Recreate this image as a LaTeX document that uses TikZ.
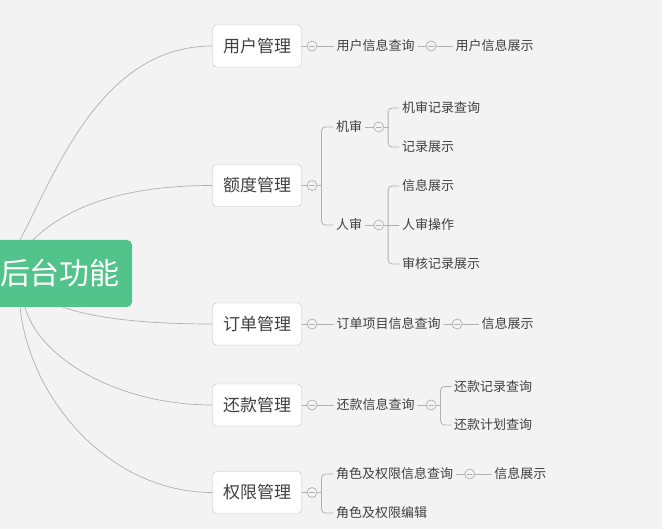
\documentclass[tikz,border=0pt]{standalone}
\usepackage{fontspec}
\newfontfamily\cjk{Noto Sans CJK SC}
\usetikzlibrary{positioning}
\definecolor{bgcol}{HTML}{F3F3F3}
\definecolor{rootcol}{HTML}{52C48B}
\definecolor{lncol}{HTML}{B0B0B0}
\definecolor{boxcol}{HTML}{C2C2C2}
\definecolor{txtcol}{HTML}{404040}
\tikzset{
	ln/.style={draw=lncol, line width=0.8pt},
	curve/.style={draw=lncol, line width=0.7pt},
	topic/.style={draw=boxcol, fill=white, rounded corners=4pt, minimum width=89pt, minimum height=42pt, inner sep=0pt, text=txtcol, font=\cjk\fontsize{17}{17}\selectfont},
	leaf/.style={anchor=west, inner xsep=3pt, inner ysep=2pt, text=txtcol, font=\cjk\fontsize{13}{13}\selectfont},
	fold/.style={circle, draw=lncol, fill=bgcol, minimum size=10pt, inner sep=0pt, line width=0.7pt,
		path picture={\draw[lncol, line width=0.7pt] ([xshift=-2.5pt]path picture bounding box.center) -- ([xshift=2.5pt]path picture bounding box.center);}},
}
\begin{document}
\begin{tikzpicture}[x=1pt, y=-1pt, line join=round, line cap=round]
	\def\W{662} \def\H{529}
	\useasboundingbox (0,0) rectangle (\W,\H);
	\clip (0,0) rectangle (\W,\H);
	\fill[bgcol] (0,0) rectangle (\W,\H);
	% centre
	\node[fill=rootcol, rounded corners=5pt, minimum width=144pt, minimum height=67pt, inner sep=0pt, text=white, font=\cjk\fontsize{30}{30}\selectfont] (root) at (60,273.5) {后台功能};
	% main topics
	\node[topic] (yh) at (257,46) {用户管理};
	\node[topic] (ed) at (257,185.5) {额度管理};
	\node[topic] (dd) at (257,324) {订单管理};
	\node[topic] (hk) at (257,405) {还款管理};
	\node[topic] (qx) at (257,492.5) {权限管理};
	\draw[curve] ([xshift=-40pt]root.north) .. controls (55,175) and (100,46) .. (yh.west);
	\draw[curve] ([xshift=-27pt]root.north) .. controls (71,203) and (131,185.5) .. (ed.west);
	\draw[curve] ([xshift=3pt]root.south) .. controls (94,318) and (143,324) .. (dd.west);
	\draw[curve] ([xshift=-35pt]root.south) .. controls (40,360) and (120,405) .. (hk.west);
	\draw[curve] ([xshift=-40pt]root.south) .. controls (30,400) and (110,492.5) .. (qx.west);
	% 用户管理
	\node[fold, right=5pt of yh] (yh-f) {};
	\node[leaf, right=16pt of yh-f] (yhcx) {用户信息查询};
	\node[fold, right=8pt of yhcx] (yhcx-f) {};
	\node[leaf, right=16pt of yhcx-f] (yhzs) {用户信息展示};
	\draw[ln] (yh) -- (yh-f) -- (yhcx) -- (yhcx-f) -- (yhzs);
	% 额度管理
	\node[fold, right=5pt of ed] (ed-f) {};
	\node[leaf] (js) at (333,127) {机审};
	\node[leaf] (rs) at (333,225) {人审};
	\draw[ln] (ed) -- (ed-f) -- ([xshift=4pt]ed-f.east);
	\draw[ln, rounded corners=4pt] (js.west) -| ([xshift=4pt]ed-f.east) |- (rs.west);
	\node[fold, right=8pt of js] (js-f) {};
	\node[leaf] (jsjl) at (399,108) {机审记录查询};
	\node[leaf] (jlzs) at (399,147) {记录展示};
	\draw[ln] (js) -- (js-f) -- ([xshift=4pt]js-f.east);
	\draw[ln, rounded corners=4pt] (jsjl.west) -| ([xshift=4pt]js-f.east) |- (jlzs.west);
	\node[fold, right=8pt of rs] (rs-f) {};
	\node[leaf] (xxzs) at (399,186) {信息展示};
	\node[leaf] (rscz) at (399,225) {人审操作};
	\node[leaf] (shjl) at (399,264) {审核记录展示};
	\draw[ln] (rs) -- (rs-f) -- (rscz);
	\draw[ln, rounded corners=4pt] (xxzs.west) -| ([xshift=4pt]rs-f.east) |- (shjl.west);
	% 订单管理
	\node[fold, right=5pt of dd] (dd-f) {};
	\node[leaf, right=16pt of dd-f] (ddcx) {订单项目信息查询};
	\node[fold, right=8pt of ddcx] (ddcx-f) {};
	\node[leaf, right=16pt of ddcx-f] (ddzs) {信息展示};
	\draw[ln] (dd) -- (dd-f) -- (ddcx) -- (ddcx-f) -- (ddzs);
	% 还款管理
	\node[fold, right=5pt of hk] (hk-f) {};
	\node[leaf, right=16pt of hk-f] (hkcx) {还款信息查询};
	\node[fold, right=8pt of hkcx] (hkcx-f) {};
	\node[leaf] (hkjl) at (451,386.5) {还款记录查询};
	\node[leaf] (hkjh) at (451,425) {还款计划查询};
	\draw[ln] (hk) -- (hk-f) -- (hkcx) -- (hkcx-f) -- ([xshift=4pt]hkcx-f.east);
	\draw[ln, rounded corners=4pt] (hkjl.west) -| ([xshift=4pt]hkcx-f.east) |- (hkjh.west);
	% 权限管理
	\node[fold, right=5pt of qx] (qx-f) {};
	\node[leaf] (jscx) at (333,474) {角色及权限信息查询};
	\node[leaf] (jsbj) at (333,513) {角色及权限编辑};
	\draw[ln] (qx) -- (qx-f) -- ([xshift=4pt]qx-f.east);
	\draw[ln, rounded corners=4pt] (jscx.west) -| ([xshift=4pt]qx-f.east) |- (jsbj.west);
	\node[fold, right=8pt of jscx] (jscx-f) {};
	\node[leaf, right=16pt of jscx-f] (qxzs) {信息展示};
	\draw[ln] (jscx) -- (jscx-f) -- (qxzs);
\end{tikzpicture}
\end{document}
